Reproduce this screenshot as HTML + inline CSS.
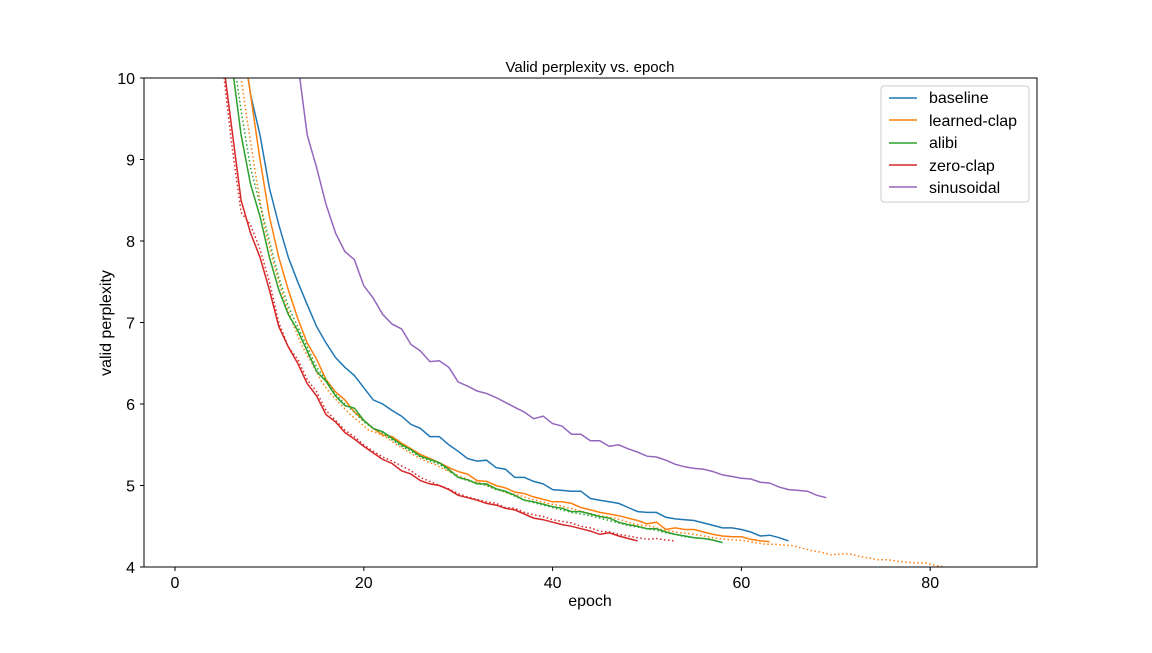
<!DOCTYPE html>
<html><head><meta charset="utf-8"><style>
body{margin:0;background:#fff;font-family:"Liberation Sans","DejaVu Sans",sans-serif;}
svg text{font-family:"Liberation Sans","DejaVu Sans",sans-serif;}
</style></head><body>
<svg id="s" width="1152" height="648" xmlns="http://www.w3.org/2000/svg">
<defs><clipPath id="c"><rect x="144" y="78" width="893" height="489"/></clipPath></defs>
<rect width="1152" height="648" fill="#fff"/>
<text x="590" y="72" font-size="15" text-anchor="middle">Valid perplexity vs. epoch</text>
<g id="plot" clip-path="url(#c)" fill="none" stroke-width="1.5"></g>
<rect x="144" y="78" width="893" height="489" fill="none" stroke="#000" stroke-width="1"/>
<g id="ticks" font-size="16"></g>
<text x="590" y="606" font-size="16" text-anchor="middle">epoch</text>
<text x="111" y="323" font-size="16" text-anchor="middle" transform="rotate(-90 111 323)">valid perplexity</text>
<g transform="translate(881,86)">
<rect x="0" y="0" width="148" height="116" fill="#fff" stroke="#ccc" rx="3"/>
<line x1="8" y1="12" x2="36" y2="12" stroke="#1f77b4" stroke-width="1.5"/><text x="48" y="17" font-size="16">baseline</text>
<line x1="8" y1="34" x2="36" y2="34" stroke="#ff7f0e" stroke-width="1.5"/><text x="48" y="40" font-size="16">learned-clap</text>
<line x1="8" y1="57" x2="36" y2="57" stroke="#2ca02c" stroke-width="1.5"/><text x="48" y="62" font-size="16">alibi</text>
<line x1="8" y1="79" x2="36" y2="79" stroke="#d62728" stroke-width="1.5"/><text x="48" y="85" font-size="16">zero-clap</text>
<line x1="8" y1="101" x2="36" y2="101" stroke="#9467bd" stroke-width="1.5"/><text x="48" y="107" font-size="16">sinusoidal</text>
</g>
</svg>
<script>
const X=e=>175+e*9.44, Y=v=>567-(v-4)*81.5;
const ns="http://www.w3.org/2000/svg";
const P=document.getElementById('plot'),T=document.getElementById('ticks');
function el(t,a,p,txt){const e=document.createElementNS(ns,t);for(const k in a)e.setAttribute(k,a[k]);if(txt!==undefined)e.textContent=String(txt);p.appendChild(e);return e;}
for(const e of [0,20,40,60,80]){el('line',{x1:X(e),x2:X(e),y1:567,y2:571,stroke:'#000'},T);el('text',{x:X(e),y:588,'text-anchor':'middle'},T,e);}
for(let v=4;v<=10;v++){el('line',{x1:140,x2:144,y1:Y(v),y2:Y(v),stroke:'#000'},T);el('text',{x:135,y:Y(v)+6,'text-anchor':'end'},T,v);}
function line(start,vals,col,dash){let pts=vals.map((v,i)=>X(start+i).toFixed(1)+','+Y(v).toFixed(1)).join(' ');const a={points:pts,stroke:col};if(dash)a['stroke-dasharray']='1.5,2.5';el('polyline',a,P);}
const base=[10.6,9.8,9.3,8.65,8.2,7.8,7.5,7.22,6.95,6.75,6.57,6.45,6.35,6.2,6.05,6.0,5.92,5.85,5.75,5.7,5.6,5.6,5.5,5.42,5.33,5.3,5.31,5.22,5.2,5.1,5.1,5.05,5.02,4.95,4.94,4.93,4.93,4.84,4.82,4.8,4.78,4.73,4.68,4.67,4.67,4.61,4.59,4.58,4.57,4.54,4.51,4.48,4.48,4.46,4.43,4.38,4.39,4.36,4.32];
const lc=[10.6,9.8,9.0,8.3,7.8,7.4,7.05,6.75,6.55,6.3,6.15,6.05,5.9,5.8,5.7,5.62,5.6,5.52,5.45,5.38,5.33,5.28,5.22,5.17,5.14,5.06,5.05,5.0,4.97,4.92,4.9,4.86,4.83,4.8,4.8,4.78,4.73,4.7,4.67,4.65,4.63,4.6,4.57,4.53,4.55,4.46,4.48,4.46,4.46,4.43,4.4,4.38,4.37,4.37,4.34,4.32,4.31];
const lcd=[10.4,9.6,8.85,8.15,7.7,7.3,6.98,6.7,6.5,6.28,6.12,6.0,5.88,5.78,5.68,5.64,5.58,5.5,5.43,5.36,5.3,5.26,5.2,5.15,5.1,5.05,5.03,4.98,4.94,4.9,4.88,4.84,4.81,4.78,4.76,4.73,4.7,4.67,4.64,4.62,4.6,4.57,4.53,4.51,4.5,4.46,4.44,4.42,4.41,4.39,4.37,4.35,4.34,4.33,4.32,4.3,4.28,4.28,4.27,4.26,4.23,4.2,4.18,4.15,4.16,4.16,4.13,4.11,4.09,4.09,4.07,4.06,4.05,4.05,4.02,4.0,3.98,3.96];
const al=[10.2,9.3,8.7,8.3,7.8,7.4,7.1,6.9,6.65,6.4,6.28,6.1,5.98,5.95,5.8,5.7,5.66,5.58,5.5,5.44,5.36,5.32,5.28,5.2,5.1,5.07,5.02,5.02,4.96,4.93,4.88,4.82,4.8,4.77,4.74,4.72,4.68,4.68,4.65,4.62,4.6,4.55,4.52,4.5,4.47,4.47,4.43,4.4,4.38,4.36,4.35,4.33,4.3];
const ald=[10.4,9.6,8.9,8.45,8.0,7.55,7.2,6.95,6.7,6.45,6.3,6.12,6.0,5.9,5.78,5.7,5.64,5.56,5.48,5.42,5.35,5.3,5.26,5.18,5.1,5.06,5.03,5.0,4.95,4.92,4.87,4.82,4.79,4.76,4.73,4.7,4.67,4.65,4.63,4.6,4.57,4.54,4.51,4.49,4.47,4.45,4.42,4.4,4.37,4.36,4.35,4.34];
const zc=[10.3,9.4,8.5,8.1,7.8,7.4,6.95,6.7,6.5,6.25,6.1,5.87,5.78,5.65,5.57,5.48,5.4,5.32,5.27,5.18,5.14,5.06,5.02,5.0,4.95,4.88,4.85,4.82,4.78,4.76,4.72,4.7,4.65,4.6,4.58,4.55,4.52,4.5,4.47,4.44,4.4,4.42,4.38,4.35,4.32];
const zcd=[10.2,9.2,8.35,8.2,7.9,7.5,7.0,6.7,6.55,6.3,6.15,5.92,5.8,5.68,5.6,5.5,5.42,5.35,5.3,5.24,5.18,5.1,5.05,5.0,4.96,4.9,4.86,4.83,4.8,4.78,4.73,4.72,4.67,4.64,4.62,4.58,4.56,4.54,4.5,4.48,4.44,4.43,4.4,4.38,4.36,4.34,4.35,4.33,4.32];
const sn=[10.2,9.3,8.9,8.45,8.1,7.87,7.77,7.45,7.3,7.1,6.98,6.92,6.73,6.65,6.52,6.53,6.45,6.27,6.22,6.16,6.13,6.08,6.02,5.96,5.9,5.82,5.85,5.76,5.73,5.63,5.63,5.55,5.55,5.48,5.5,5.45,5.41,5.36,5.35,5.31,5.26,5.23,5.21,5.2,5.17,5.13,5.11,5.09,5.08,5.04,5.03,4.98,4.95,4.94,4.93,4.88,4.85];
line(6.5,lcd,'#ff7f0e',1);
line(7,base,'#1f77b4');
line(7,lc,'#ff7f0e');
line(6,ald,'#2ca02c',1);
line(6,al,'#2ca02c');
line(5,zcd,'#d62728',1);
line(5,zc,'#d62728');
line(13,sn,'#9467bd');
</script>
</body></html>
